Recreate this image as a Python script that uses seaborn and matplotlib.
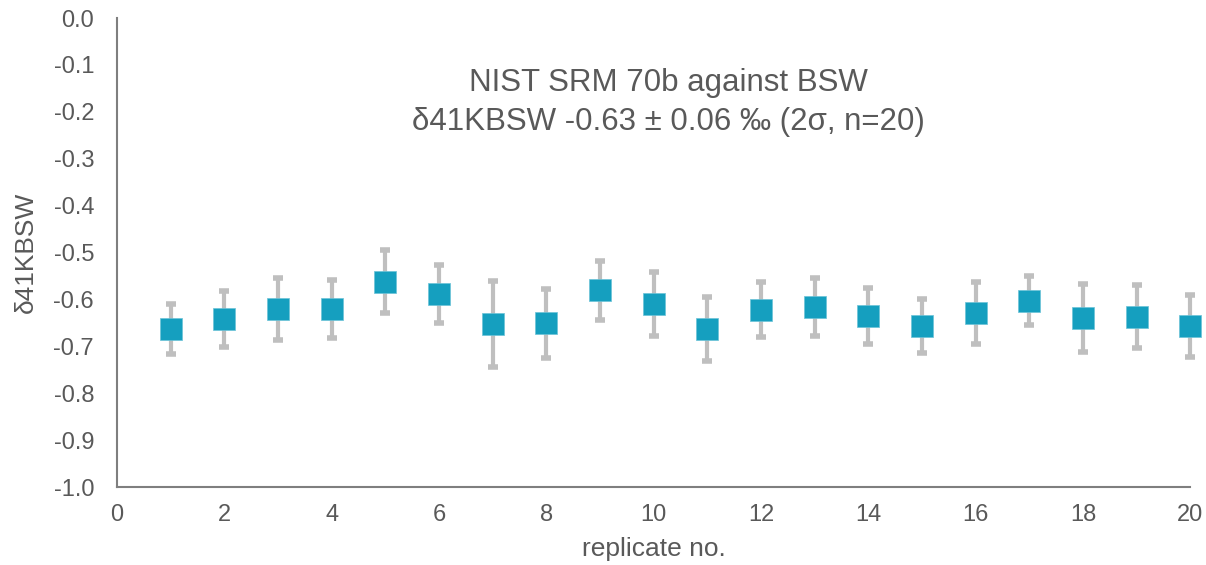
import numpy as np
import pandas as pd
import matplotlib
matplotlib.use("Agg")
import matplotlib.pyplot as plt
import seaborn as sns

sns.set_style("white")
plt.rcParams['font.family'] = ['Liberation Sans', 'DejaVu Sans']

# replicate number, delta41K vs BSW, and 2 sigma error
replicate = list(range(1, 21))
d41k = [-0.663, -0.642, -0.621, -0.620, -0.562, -0.589, -0.653, -0.651, -0.580, -0.610,
        -0.663, -0.622, -0.616, -0.636, -0.657, -0.629, -0.603, -0.640, -0.637, -0.656]
err2s = [0.054, 0.059, 0.066, 0.062, 0.067, 0.062, 0.092, 0.073, 0.063, 0.068,
         0.068, 0.059, 0.062, 0.060, 0.058, 0.067, 0.052, 0.072, 0.067, 0.066]
x_ticks = list(range(0, 21, 2))
y_ticks = [round(-0.1 * i, 1) for i in range(11)]
y_labels = ['0.0'] + [f"{v:.1f}" for v in y_ticks[1:]]

df = pd.DataFrame({'replicate': replicate, 'd41k': d41k, 'err': err2s})

grey_txt = '#595959'
fig = plt.figure(figsize=(12.06, 5.65), dpi=100)
ax = fig.add_axes([0.097, 0.138, 0.890, 0.830])

eb = ax.errorbar(df['replicate'], df['d41k'], yerr=df['err'], fmt='none',
                 ecolor='#BFBFBF', elinewidth=3, capsize=3.5, capthick=4, zorder=1)
for art in eb.lines[1] + eb.lines[2]:
    art.set_clip_on(False)
sns.scatterplot(data=df, x='replicate', y='d41k', marker='s', s=260,
                color='#159FBF', edgecolor='#6CC3D8', linewidth=0.5, ax=ax,
                zorder=2, clip_on=False)

ax.set_xlim(0, 20)
ax.set_ylim(-1.0, 0.0)
ax.set_xticks(x_ticks)
ax.set_yticks(y_ticks)
ax.set_yticklabels(y_labels)
ax.tick_params(axis='both', labelsize=17, colors=grey_txt, length=0)
ax.tick_params(axis='x', pad=12)
ax.tick_params(axis='y', pad=16.5)

for side in ['top', 'right']:
    ax.spines[side].set_visible(False)
for side in ['left', 'bottom']:
    ax.spines[side].set_color('#7F7F7F')
    ax.spines[side].set_linewidth(1.5)

ax.set_xlabel('replicate no.', fontsize=19, color=grey_txt, labelpad=8)
ax.set_ylabel('δ41KBSW', fontsize=19, color=grey_txt, labelpad=11)

ax.text(10.27, -0.18, 'NIST SRM 70b against BSW\nδ41KBSW -0.63 ± 0.06 ‰ (2σ, n=20)',
        ha='center', va='center', fontsize=22.5, color=grey_txt, linespacing=1.38)

fig.savefig('out.png', dpi=100)
